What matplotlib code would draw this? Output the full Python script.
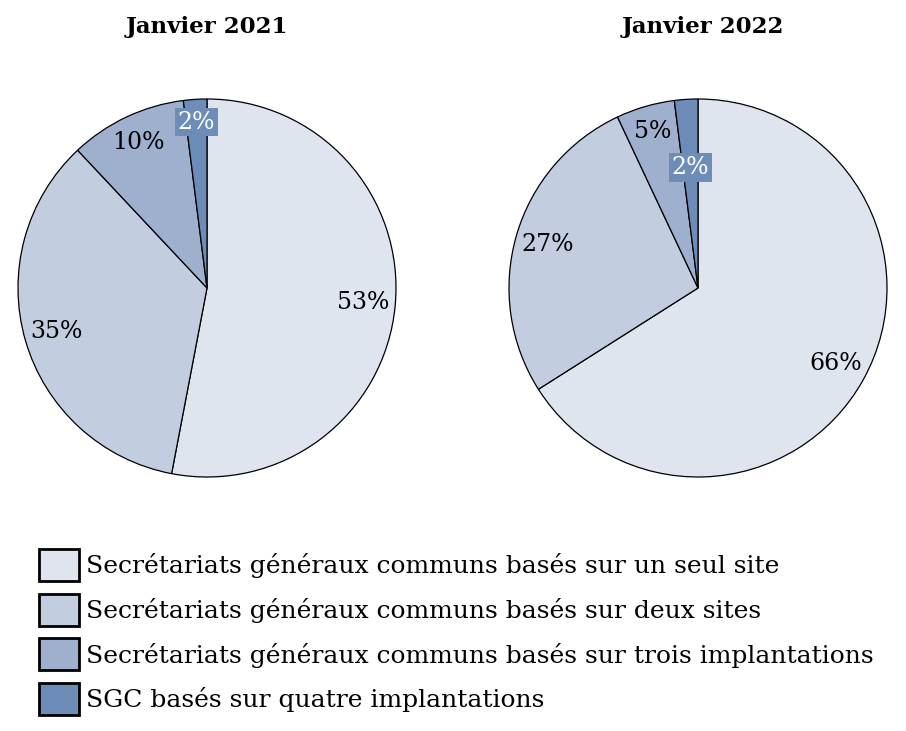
import matplotlib
matplotlib.use("Agg")
import numpy as np
import matplotlib.pyplot as plt

plt.rcParams['font.family'] = ['DejaVu Serif']

titles = ["Janvier 2021", "Janvier 2022"]
categories = [
    "Secrétariats généraux communs basés sur un seul site",
    "Secrétariats généraux communs basés sur deux sites",
    "Secrétariats généraux communs basés sur trois implantations",
    "SGC basés sur quatre implantations",
]
values_2021 = [53, 35, 10, 2]
values_2022 = [66, 27, 5, 2]
colors = ["#dfe5ef", "#c3cde0", "#9fb0cf", "#6d8cb8"]

# label distance from centre, per wedge (fraction of radius)
dist_2021 = [0.83, 0.83, 0.85, 0.88]
dist_2022 = [0.83, 0.83, 0.86, 0.64]

W, H = 906, 731
fig = plt.figure(figsize=(W / 100, H / 100), dpi=100)

R = 189
lim = 1.02


def pie_axes(cx, cy):
    half = R * lim
    return fig.add_axes([(cx - half) / W, (H - cy - half) / H, 2 * half / W, 2 * half / H])


def draw(ax, vals, dists, title, tx):
    wedges, _ = ax.pie(vals, colors=colors, startangle=90, counterclock=False,
                       wedgeprops=dict(edgecolor="black", linewidth=0.9))
    ax.set_xlim(-lim, lim)
    ax.set_ylim(-lim, lim)
    ax.set_aspect("equal")
    for i, (w, v) in enumerate(zip(wedges, vals)):
        ang = np.deg2rad((w.theta1 + w.theta2) / 2)
        x, y = dists[i] * np.cos(ang), dists[i] * np.sin(ang)
        if i == len(vals) - 1:
            ax.text(x, y, f"{v}%", ha="center", va="center", fontsize=17, color="white",
                    bbox=dict(boxstyle="square,pad=0.12", facecolor=colors[-1], edgecolor="none"))
        else:
            ax.text(x, y, f"{v}%", ha="center", va="center", fontsize=17, color="black")
    fig.text(tx / W, 1 - 27 / H, title, ha="center", va="center", fontsize=16.5, fontweight="bold")
    return wedges


ax1 = pie_axes(207, 288)
draw(ax1, values_2021, dist_2021, titles[0], 207)
ax2 = pie_axes(698, 288)
draw(ax2, values_2022, dist_2022, titles[1], 703)

handles = [plt.Rectangle((0, 0), 1, 1, facecolor=c, edgecolor="black", linewidth=2) for c in colors]
fig.legend(handles, categories, loc="upper left", bbox_to_anchor=(39 / W, 1 - 549 / H),
           frameon=False, fontsize=18, handlelength=1.6, handleheight=1.6,
           handletextpad=0.3, labelspacing=0.5, borderpad=0, borderaxespad=0)

fig.savefig("out.png", dpi=100)
